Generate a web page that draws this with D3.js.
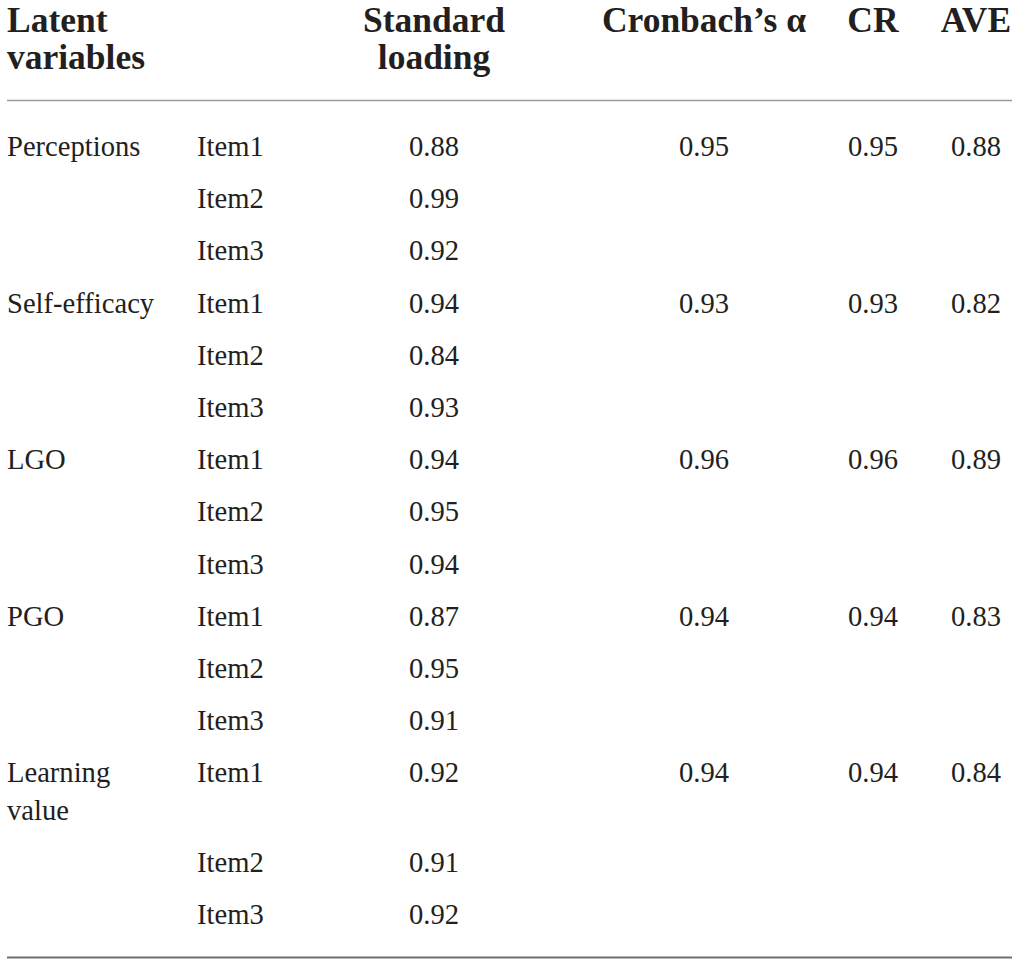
<!DOCTYPE html>
<html>
<head>
<meta charset="utf-8">
<script src="https://cdn.jsdelivr.net/npm/d3@7"></script>
<style>
html,body{margin:0;padding:0;background:#fff;}
svg{display:block;}
</style>
</head>
<body>
<svg id="chart" width="1018" height="963"></svg>
<script>
// ---- data ----
const headers = ["Latent variables", "", "Standard loading", "Cronbach’s α", "CR", "AVE"];
const latentVars = ["Perceptions", "Self-efficacy", "LGO", "PGO", "Learning value"];
const items = ["Item1", "Item2", "Item3"];
const loadings = [
  [0.88, 0.99, 0.92],
  [0.94, 0.84, 0.93],
  [0.94, 0.95, 0.94],
  [0.87, 0.95, 0.91],
  [0.92, 0.91, 0.92]
];
const alpha = [0.95, 0.93, 0.96, 0.94, 0.94];
const cr = [0.95, 0.93, 0.96, 0.94, 0.94];
const ave = [0.88, 0.82, 0.89, 0.83, 0.84];

// ---- layout ----
const W = 1018, H = 963;
const svg = d3.select("#chart");
const ink = "#231f20";
const bodyFont = "'Liberation Serif', 'Times New Roman', serif";
const bodySize = 28.6, headSize = 35.5;
const rowH = 52.2, lineH = 37.5;
const firstBaseline = 156;
const labelWrap = 165;

// column positions: [x, anchor]
const cols = [
  {x: 7, anchor: "start"},
  {x: 197, anchor: "start"},
  {x: 434, anchor: "middle"},
  {x: 704, anchor: "middle"},
  {x: 873, anchor: "middle"},
  {x: 976, anchor: "middle"}
];

// text measuring for wrapping
const measure = svg.append("text").attr("font-family", bodyFont).attr("font-size", bodySize).attr("visibility", "hidden");
function wrap(str, width) {
  const words = str.split(" ");
  const lines = [];
  let cur = "";
  words.forEach(w => {
    const t = cur ? cur + " " + w : w;
    measure.text(t);
    if (measure.node().getComputedTextLength() > width && cur) { lines.push(cur); cur = w; }
    else cur = t;
  });
  if (cur) lines.push(cur);
  return lines;
}

// build flat rows
const rows = [];
latentVars.forEach((lv, g) => {
  const lvLines = wrap(lv, labelWrap);
  items.forEach((it, i) => {
    rows.push({
      group: g, i,
      lvLines: i === 0 ? lvLines : [],
      cells: [null, it, loadings[g][i].toFixed(2),
        i === 0 ? alpha[g].toFixed(2) : "",
        i === 0 ? cr[g].toFixed(2) : "",
        i === 0 ? ave[g].toFixed(2) : ""]
    });
  });
});
// cumulative heights
let acc = 0;
rows.forEach(r => {
  r.offset = acc;
  acc += rowH + (r.lvLines.length > 1 ? (r.lvLines.length - 1) * lineH : 0);
});
const y = d3.scaleLinear().domain([0, 1]).range([firstBaseline, firstBaseline + 1]);

// header
const head = svg.append("g").attr("font-family", bodyFont).attr("font-size", headSize)
  .attr("font-weight", "bold").attr("fill", ink);
headers.forEach((h, c) => {
  if (!h) return;
  const lines = (c === 0 || c === 2) ? h.split(" ") : [h];
  const t = head.append("text").attr("x", cols[c].x).attr("y", 31.5).attr("text-anchor", cols[c].anchor);
  lines.forEach((l, k) => t.append("tspan").attr("x", cols[c].x).attr("dy", k === 0 ? 0 : 37.5).text(l));
});

// rules
svg.append("line").attr("x1", 7).attr("x2", 1012).attr("y1", 100.5).attr("y2", 100.5)
  .attr("stroke", "#9a9a9a").attr("stroke-width", 1.5);
svg.append("line").attr("x1", 7).attr("x2", 1012).attr("y1", 957.5).attr("y2", 957.5)
  .attr("stroke", "#6e6e6e").attr("stroke-width", 1.8);

// body
const body = svg.append("g").attr("font-family", bodyFont).attr("font-size", bodySize).attr("fill", ink);
const rg = body.selectAll("g.row").data(rows).join("g").attr("class", "row")
  .attr("transform", d => `translate(0,${y(d.offset)})`);

rg.each(function(d) {
  const g = d3.select(this);
  if (d.lvLines.length) {
    const t = g.append("text").attr("x", cols[0].x).attr("y", 0);
    d.lvLines.forEach((l, k) => t.append("tspan").attr("x", cols[0].x).attr("dy", k === 0 ? 0 : lineH).text(l));
  }
  d.cells.forEach((v, c) => {
    if (!v) return;
    g.append("text").attr("x", cols[c].x).attr("y", 0).attr("text-anchor", cols[c].anchor).text(v);
  });
});
measure.remove();
</script>
</body>
</html>
